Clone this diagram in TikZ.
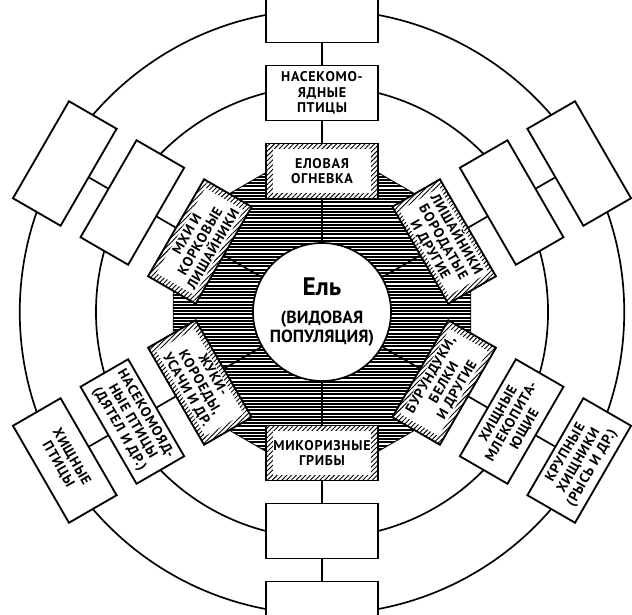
\documentclass[tikz,border=0pt]{standalone}
\usepackage{fontspec}
\setmainfont{PT Sans}
\newfontfamily\boxfont[LetterSpace=5]{PT Sans}
\usepackage{tikz}
\usetikzlibrary{patterns.meta}

\begin{document}
\begin{tikzpicture}[
    ring/.style={line width=1.2pt},
    link/.style={line width=1.2pt},
    boxfont/.style={font=\boxfont\bfseries\fontsize{10}{10.8}\selectfont},
    box/.style={draw, line width=1.3pt, fill=white, minimum width=2.8cm, minimum height=1.375cm, inner sep=1pt, align=center, boxfont, rotate=#1},
    box/.default=0,
    inbox/.style={draw, line width=1.3pt, minimum width=2.8cm, minimum height=1.375cm, inner sep=0pt, rotate=#1,
      preaction={fill=white}, pattern={Lines[angle=45,distance=2.4pt,line width=.65pt]}},
    intext/.style={fill=white, minimum width=2.45cm, minimum height=1.1cm, inner sep=0.5pt, align=center, boxfont, rotate=#1},
    hatch/.style={line width=1.4pt}
  ]
    \useasboundingbox (-8.05,-7.55) rectangle (7.75,7.8);
    \clip (-8.05,-7.55) rectangle (7.75,7.8);

    % rings
    \draw[ring] (0,0) circle[radius=5.651];
    \draw[ring] (0,0) circle[radius=7.556];

    % shaded stand round the tree
    \begin{scope}
      \clip (15:3.85) \foreach \k in {1,...,11} { -- ({15+30*\k}:3.85) } -- cycle;
      \foreach \y in {-3.9,-3.82,...,3.9} {
        \draw[hatch] (-4,\y) -- (4,\y);
      }
    \end{scope}
    \draw[line width=.6pt] (15:3.85) \foreach \k in {1,...,11} { -- ({15+30*\k}:3.85) } -- cycle;

    \node[circle, draw, line width=1.2pt, fill=white, minimum size=3.45cm, inner sep=0pt, align=center,
      font=\bfseries\fontsize{12.5}{14}\selectfont] (el) at (0,0)
      {{\fontsize{18}{18}\selectfont Ель}\\[6pt](ВИДОВАЯ\\ПОПУЛЯЦИЯ)};

    % first ring
    \node[inbox=0] (in90) at (90:3.525) {};
    \node[intext=0] (t90) at (in90) {ЕЛОВАЯ\\ОГНЕВКА};
    \node[inbox=-60] (in30) at (30:3.525) {};
    \node[intext=-60] (t30) at (in30) {ЛИШАЙНИКИ\\БОРОДАТЫЕ\\И ДРУГИЕ};
    \node[inbox=60] (in150) at (150:3.525) {};
    \node[intext=60] (t150) at (in150) {МХИ И\\КОРКОВЫЕ\\ЛИШАЙНИКИ};
    \node[inbox=-60] (in210) at (210:3.525) {};
    \node[intext=-60] (t210) at (in210) {ЖУКИ-\\КОРОЕДЫ,\\УСАЧИ И ДР.};
    \node[inbox=0] (in270) at (270:3.525) {};
    \node[intext=0] (t270) at (in270) {МИКОРИЗНЫЕ\\ГРИБЫ};
    \node[inbox=60] (in330) at (330:3.525) {};
    \node[intext=60] (t330) at (in330) {БУРУНДУКИ,\\БЕЛКИ\\И ДРУГИЕ};

    % second and third rings
    \node[box=0] (mid90) at (90:5.475) {НАСЕКОМО-\\ЯДНЫЕ\\ПТИЦЫ};
    \node[box=0] (out90) at (90:7.425) {};
    \node[box=-60] (mid30) at (30:5.475) {};
    \node[box=-60] (out30) at (30:7.425) {};
    \node[box=60] (mid150) at (150:5.475) {};
    \node[box=60] (out150) at (150:7.425) {};
    \node[box=-60] (mid210) at (210:5.475) {НАСЕКОМОЯД-\\НЫЕ ПТИЦЫ\\(ДЯТЕЛ И ДР.)};
    \node[box=-60] (out210) at (210:7.425) {ХИЩНЫЕ\\ПТИЦЫ};
    \node[box=0] (mid270) at (270:5.475) {};
    \node[box=0] (out270) at (270:7.425) {};
    \node[box=60] (mid330) at (330:5.475) {ХИЩНЫЕ\\МЛЕКОПИТА-\\ЮЩИЕ};
    \node[box=60] (out330) at (330:7.425) {КРУПНЫЕ\\ХИЩНИКИ\\(РЫСЬ И ДР.)};

    \foreach \a in {30,90,150,210,270,330} {
      \draw[link] (el) -- (in\a);
      \draw[link] (in\a) -- (mid\a);
      \draw[link] (mid\a) -- (out\a);
    }
\end{tikzpicture}
\end{document}
